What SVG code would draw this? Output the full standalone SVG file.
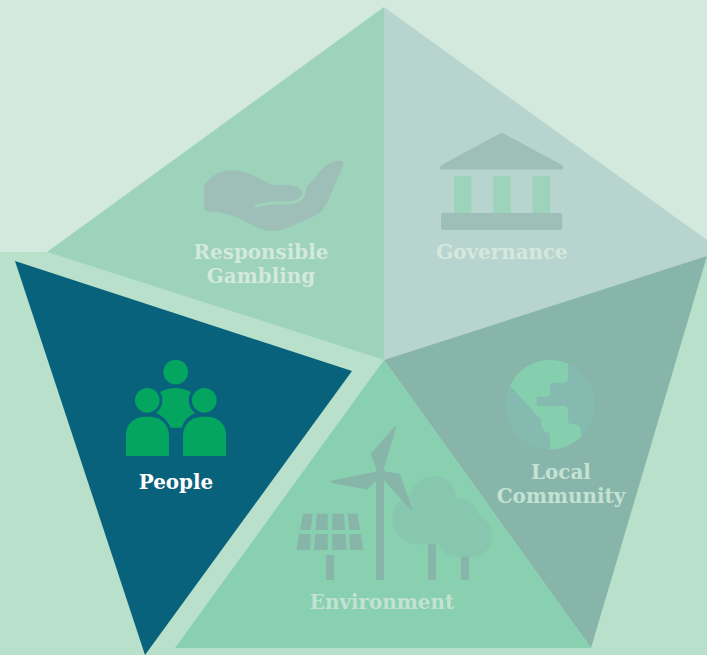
<svg xmlns="http://www.w3.org/2000/svg" width="707" height="655" viewBox="0 0 707 655">
<style>
.lbl{font-family:"DejaVu Serif","Liberation Serif",serif;font-weight:700;font-size:19.9px;text-anchor:middle}
.faint{fill:#d3e9dd}
.soft{fill:#c4e2d4}
.icon{fill:#87b5a9}
.tree{fill:#88c7af}
</style>
<rect width="707" height="655" fill="#d3e9dd"/>
<path id="lower-bg" d="M0 252H47L384 360L707 240V655H0Z" fill="#b8e0cb"/>
<g id="responsible-gambling">
<path d="M384 7L47 252L384 360Z" fill="#9dd2bb"/>
<path d="M204 185C212 175 222 170 232 170C248 170 262 181 273 185H287C295 185 301 187 302 192L306 188L323 168C328 163 336 160 341 161Q345 162 343 166L327 203C323 210 320 214 312 217L290 227C282 230 276 231 270 231C258 230 248 222 236 217C228 214 220 212 213 212L207 211Q204 210 204 207Z" fill="#9dbfb7"/>
<path d="M255 206C268 202 282 203 291 202.500C300 202 306 196 304.500 186" fill="none" stroke="#9dd2bb" stroke-width="3"/>
<text class="lbl faint" x="261" y="259">Responsible</text>
<text class="lbl faint" x="261" y="283">Gambling</text>
</g>
<g id="governance">
<path d="M384 7L707 240V256L384 360Z" fill="#b8d4cf"/>
<path d="M500 133.500Q501.700 132.500 503.500 133.500L562 165Q565 168 562 169.500H441.500Q438.500 168 441.500 165Z" fill="#9dbfb7"/>
<rect x="454" y="176" width="17.300" height="37" fill="#9dd2bb"/>
<rect x="493.300" y="176" width="17.400" height="37" fill="#9dd2bb"/>
<rect x="532.700" y="176" width="17.300" height="37" fill="#9dd2bb"/>
<rect x="441" y="213" width="121.300" height="17" rx="2" fill="#9dbfb7"/>
<text class="lbl faint" x="502" y="259">Governance</text>
</g>
<g id="local-community">
<path d="M384 360L707 256L591 648Z" fill="#87b5a9"/>
<circle cx="550.300" cy="404.700" r="44.700" fill="#85bab1"/>
<path d="M510 385.500A44.700 44.700 0 0 1 568 363.500V378Q568 382.700 563 382.700H553.300Q550 382.700 550 386V393Q550 396.700 546.700 396.700H536.700V406H563Q568 406 568 410.500V420Q568 424 571 424H575Q581 425 581 431V437A44.700 44.700 0 0 1 550 449.400V433.300Q543 432 541.500 426L541 420Z" fill="#86cfae"/>
<text class="lbl soft" x="561" y="479">Local</text>
<text class="lbl soft" x="561" y="503">Community</text>
</g>
<g id="environment">
<path d="M384 360L591 648H175Z" fill="#88d0af"/>
<g class="tree">
<circle cx="433.500" cy="499" r="23"/>
<circle cx="417.500" cy="519" r="25.300"/>
<circle cx="455" cy="524" r="26"/>
<circle cx="471.500" cy="536" r="21"/>
<circle cx="457.500" cy="536" r="21"/>
<rect x="417" y="520" width="40" height="24.300"/>
</g>
<g class="icon">
<path d="M303 513.700H312.700L310.700 530H300ZM316.700 513.700H327.700V530H315.700ZM332.300 513.700H344L345 530H332.300ZM347.700 513.700H357.300L360 530H349.300Z"/>
<path d="M299 534H310.700L310 550H296.700ZM315 534H327.700V550H314ZM332.300 534H345.700L346.700 550H332.300ZM349.300 534H360.700L363.300 550H350Z"/>
<rect x="326" y="555" width="8" height="25"/>
<rect x="376" y="472" width="8" height="108"/>
<rect x="428" y="544" width="8" height="36"/>
<rect x="461" y="556.500" width="8" height="23.500"/>
<path d="M395 426Q396.500 425.500 396 427.500L384 468L385 472H376L376.700 470L370.700 454Z"/>
<path d="M331.500 480.500L376 471.700L376.700 480L367.300 489.500L332 483Q330 482 331.500 480.500Z"/>
<path d="M384 471L400 474.300L412.700 510H410.700L384 480Z"/>
</g>
<text class="lbl soft" x="382" y="609">Environment</text>
</g>
<g id="people">
<path d="M15 261L352 371L145 655Z" fill="#09627c"/>
<g fill="#04a55f">
<circle cx="175.700" cy="372" r="12.300"/>
<circle cx="147.300" cy="400.300" r="12.300"/>
<circle cx="204.300" cy="400.300" r="12.300"/>
<path d="M126 456V435C126 424 134 416.700 145 416.700H150C161 416.700 169 425 169 436V456Z"/>
<path d="M183 456V436C183 425 191 416.700 202 416.700H207C218 416.700 226 424 226 435V456Z"/>
<path d="M160 392Q175.500 384 191 392A16 16 0 0 0 195 413Q185 417 181.700 427.700H170.700Q166 417 156 413A16 16 0 0 0 160 392Z"/>
</g>
<text class="lbl" fill="#fff" x="176" y="489">People</text>
</g>
</svg>
